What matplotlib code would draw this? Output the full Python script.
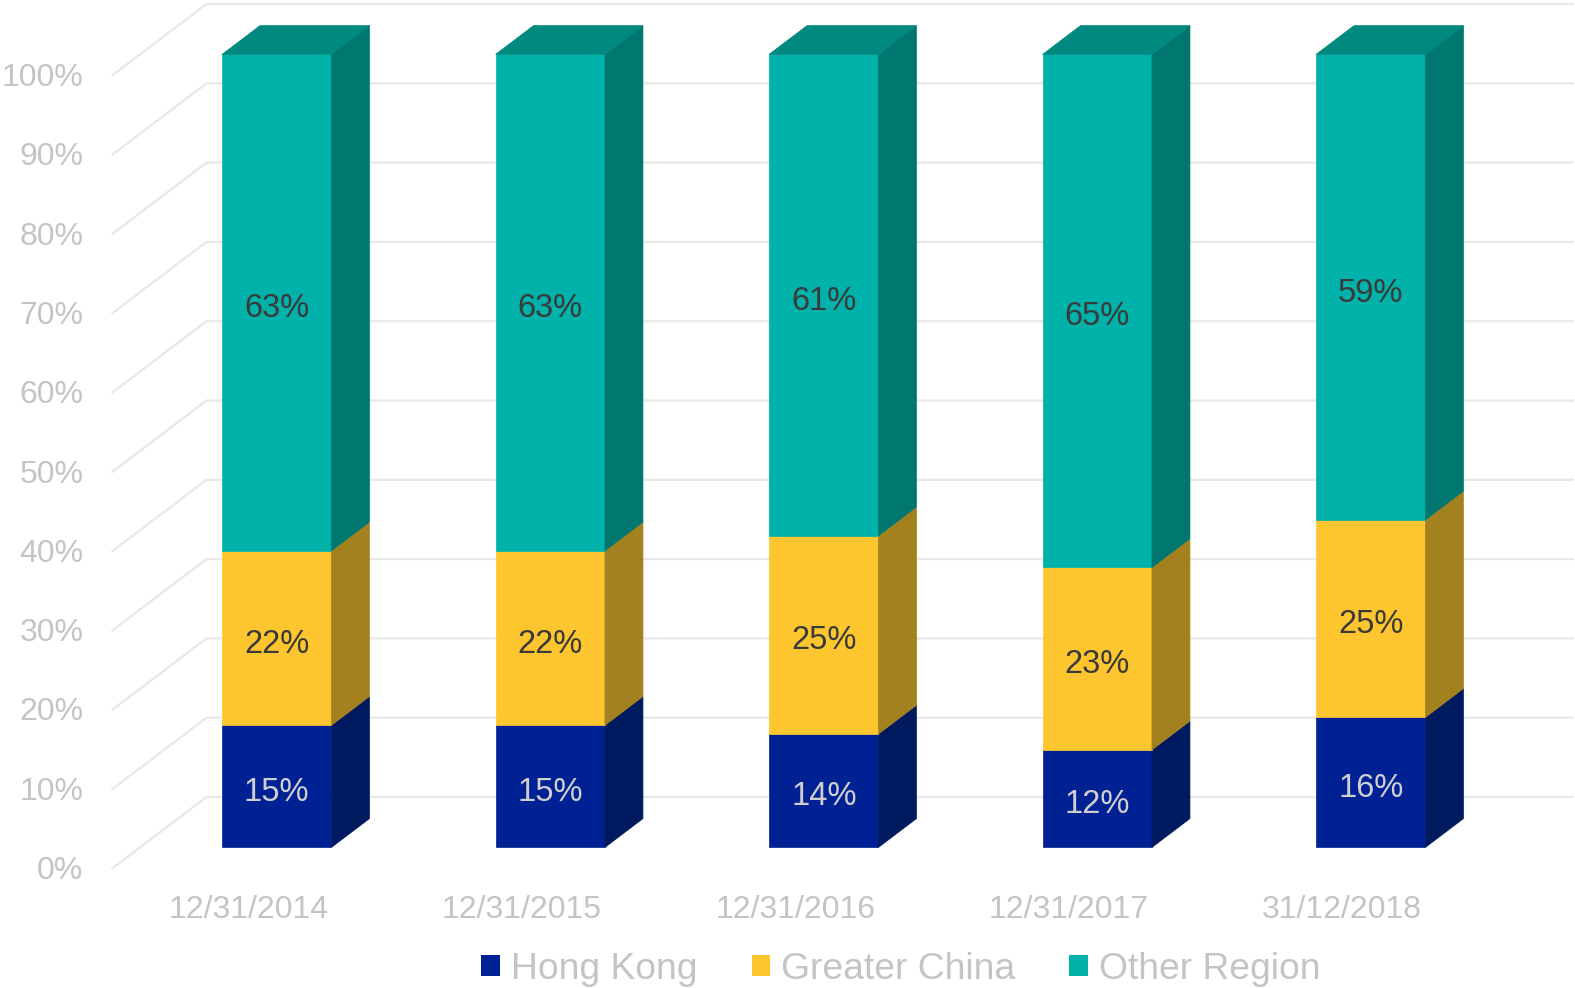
import matplotlib
matplotlib.use("Agg")
import matplotlib.pyplot as plt
from matplotlib.patches import Polygon, Patch
import numpy as np

plt.rcParams["font.family"] = ["Liberation Sans", "DejaVu Sans"]

categories = ["12/31/2014", "12/31/2015", "12/31/2016", "12/31/2017", "31/12/2018"]
hong_kong = [15.4, 15.4, 14.3, 12.3, 16.4]
greater_china = [22.0, 22.0, 25.0, 23.0, 24.9]
other_region = [62.6, 62.6, 60.7, 64.7, 58.7]
series_names = ["Hong Kong", "Greater China", "Other Region"]
y_ticks = [0, 10, 20, 30, 40, 50, 60, 70, 80, 90, 100]

# front / side / top colours per series
faces = {
    "Hong Kong": ("#002193", "#001a5f", "#001a78"),
    "Greater China": ("#fec62e", "#a3811f", "#c9a028"),
    "Other Region": ("#00b2a9", "#00776e", "#00897f"),
}
label_colors = {"Hong Kong": "#cfcfcf", "Greater China": "#3a3a3a", "Other Region": "#3a3a3a"}

W, H = 1575, 988
fig = plt.figure(figsize=(W / 100, H / 100), dpi=100)
ax = fig.add_axes([0, 0, 1, 1])

# front plane: x=0 -> px 111.5, one category = 273.5 px; 0% -> py 869, 100% = 793 px
x0_px, cat_px = 111.5, 273.5
y0_px, full_px = 869, 793
ax.set_xlim(-x0_px / cat_px, (W - x0_px) / cat_px)
ax.set_ylim((y0_px - H) / full_px * 100, y0_px / full_px * 100)
ax.axis("off")

DX = 95 / cat_px          # x shift for full depth
DY = 72 / full_px * 100   # y shift for full depth
PX = 100 / full_px        # one pixel in value units
n = len(categories)


def proj(x, v, d):
    return x + d * DX, v + d * DY


grid_c = "#e8e8e8"
for v in y_ticks:
    xa, ya = proj(0, v, 0)
    xb, yb = proj(0, v, 1)
    xc, yc = proj(n, v, 1)
    ax.plot([xa, xb, xc], [ya, yb, yc], color=grid_c, lw=1.6, zorder=1,
            solid_capstyle="butt")
    ax.text(-28 / cat_px, v - 2 * PX, f"{v}%", ha="right", va="center",
            fontsize=23, color="#c4c4c4")

d_front, d_back = 0.3, 0.7
bw = 0.4
data = [hong_kong, greater_china, other_region]
for i in range(n):
    bottom = 0
    xl = i + 0.5 - bw / 2
    xr = i + 0.5 + bw / 2
    for k, name in enumerate(series_names):
        val = data[k][i]
        top = bottom + val
        fc, sc, tc = faces[name]
        # front face
        p = [proj(xl, bottom, d_front), proj(xr, bottom, d_front),
             proj(xr, top, d_front), proj(xl, top, d_front)]
        ax.add_patch(Polygon(p, closed=True, facecolor=fc, edgecolor=fc,
                             lw=0.5, zorder=3))
        # side face
        s = [proj(xr, bottom, d_front), proj(xr, bottom, d_back),
             proj(xr, top, d_back), proj(xr, top, d_front)]
        ax.add_patch(Polygon(s, closed=True, facecolor=sc, edgecolor=sc,
                             lw=0.5, zorder=3))
        if k == len(series_names) - 1:
            t = [proj(xl, top, d_front), proj(xr, top, d_front),
                 proj(xr, top, d_back), proj(xl, top, d_back)]
            ax.add_patch(Polygon(t, closed=True, facecolor=tc, edgecolor=tc,
                                 lw=0.5, zorder=3))
        lx, ly = proj(i + 0.5, bottom + val / 2, d_front)
        ax.text(lx, ly - 6 * PX, f"{round(val)}%", ha="center", va="center",
                fontsize=23.5, color=label_colors[name], zorder=5)
        bottom = top
    ax.text(i + 0.5, -41 * PX, categories[i], ha="center",
            va="center", fontsize=23, color="#c4c4c4")

handles = [Patch(facecolor=faces[nm][0], edgecolor="none", label=nm)
           for nm in series_names]
leg = fig.legend(handles=handles, loc="center",
                 bbox_to_anchor=(901 / W, 1 - 969 / H),
                 ncol=3, frameon=False, fontsize=26.8, handlelength=0.5,
                 handleheight=0.5, handletextpad=0.3, columnspacing=1.45)
for t in leg.get_texts():
    t.set_color("#c4c4c4")

fig.savefig("out.png", dpi=100)
